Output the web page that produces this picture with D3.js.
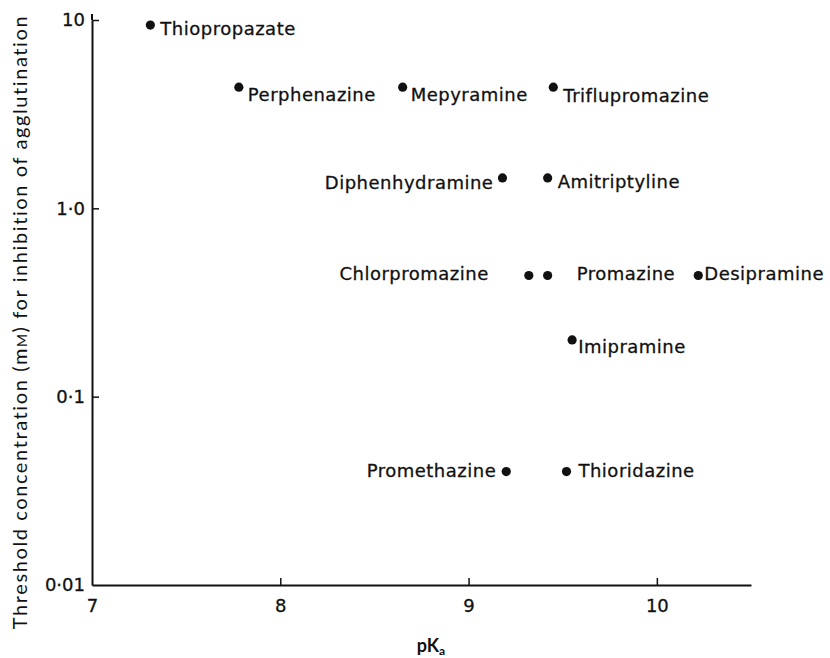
<!DOCTYPE html>
<html>
<head>
<meta charset="utf-8">
<script src="https://cdn.jsdelivr.net/npm/d3@7"></script>
<style>
  html, body { margin: 0; padding: 0; background: #fff; }
  svg { display: block; }
  .lbl { font-family: "DejaVu Sans", sans-serif; font-size: 18px; letter-spacing: 0.5px; fill: #111; stroke: #111; stroke-width: 0.3px; }
  .tick text { font-family: "DejaVu Sans", sans-serif; font-size: 18px; fill: #111; stroke: #111; stroke-width: 0.3px; }
  .title { font-family: Lato, "Open Sans", sans-serif; fill: #111; }
</style>
</head>
<body>
<svg id="chart" width="830" height="658"></svg>
<script>
// Drug names, pKa values and threshold concentrations (mM)
const drugs = ["Thiopropazate", "Perphenazine", "Mepyramine", "Triflupromazine",
               "Diphenhydramine", "Amitriptyline", "Chlorpromazine", "Promazine",
               "Desipramine", "Imipramine", "Promethazine", "Thioridazine"];
const pKa = [7.31, 7.78, 8.65, 9.45, 9.18, 9.42, 9.32, 9.42, 10.22, 9.55, 9.20, 9.52];
const threshold = [9.4, 4.4, 4.4, 4.4, 1.45, 1.45, 0.44, 0.44, 0.44, 0.2, 0.04, 0.04];

const xTicks = [7, 8, 9, 10];
const yTicks = [10, 1, 0.1, 0.01];
const yTickLabels = ["10", "1\u00B70", "0\u00B71", "0\u00B701"];

// Where each name sits relative to its dot: [dx, dy, anchor]
const labelPlacement = {
  "Thiopropazate":   [10, 10, "start"],
  "Perphenazine":    [9, 14, "start"],
  "Mepyramine":      [8, 14, "start"],
  "Triflupromazine": [10, 15, "start"],
  "Diphenhydramine": [-9, 11, "end"],
  "Amitriptyline":   [10, 10, "start"],
  "Chlorpromazine":  [-40, 5, "end"],
  "Promazine":       [29, 5, "start"],
  "Desipramine":     [6, 5, "start"],
  "Imipramine":      [6, 13, "start"],
  "Promethazine":    [-10, 5, "end"],
  "Thioridazine":    [12, 5, "start"]
};

const svg = d3.select("#chart");

const x = d3.scaleLinear().domain([7, 10.5]).range([92, 751]);
const y = d3.scaleLog().domain([0.01, 10]).range([585, 20]);

// x axis with inward ticks
const xAxis = d3.axisBottom(x)
  .tickValues(xTicks)
  .tickFormat(d3.format("d"))
  .tickSizeInner(-7)
  .tickSizeOuter(0)
  .tickPadding(14);

svg.append("g")
  .attr("transform", `translate(0,${y.range()[0]})`)
  .call(xAxis)
  .call(g => g.select(".domain").attr("stroke", "#111").attr("stroke-width", 2))
  .call(g => g.selectAll(".tick line").attr("stroke", "#111").attr("stroke-width", 1.5))
  .call(g => g.selectAll(".tick").filter(d => d === 7).select("line").remove());

// y axis (log) with inward ticks
const yAxis = d3.axisLeft(y)
  .tickValues(yTicks)
  .tickFormat((d, i) => yTickLabels[i])
  .tickSizeInner(-7)
  .tickSizeOuter(0)
  .tickPadding(7);

svg.append("g")
  .attr("transform", `translate(${x.range()[0]},0)`)
  .call(yAxis)
  .call(g => g.select(".domain").attr("stroke", "#111").attr("stroke-width", 2))
  .call(g => g.selectAll(".tick line").attr("stroke", "#111").attr("stroke-width", 1.5))
  .call(g => g.selectAll(".tick").filter(d => d === 0.01).select("line").remove());

// extend the vertical axis a touch above the top tick
svg.append("line")
  .attr("x1", x.range()[0]).attr("x2", x.range()[0])
  .attr("y1", y(10) - 6).attr("y2", y(10))
  .attr("stroke", "#111").attr("stroke-width", 2);

const pts = drugs.map((name, i) => ({ name, pKa: pKa[i], t: threshold[i] }));

svg.append("g").selectAll("circle")
  .data(pts)
  .join("circle")
  .attr("cx", d => x(d.pKa))
  .attr("cy", d => y(d.t))
  .attr("r", 4.6)
  .attr("fill", "#111");

svg.append("g").selectAll("text")
  .data(pts)
  .join("text")
  .attr("class", "lbl")
  .attr("x", d => x(d.pKa) + labelPlacement[d.name][0])
  .attr("y", d => y(d.t) + labelPlacement[d.name][1])
  .attr("text-anchor", d => labelPlacement[d.name][2])
  .text(d => d.name);

// axis titles
const xt = svg.append("text")
  .attr("class", "title")
  .attr("x", 431).attr("y", 652)
  .attr("text-anchor", "middle")
  .attr("font-size", 18)
  .attr("font-weight", 700);
xt.append("tspan").text("pK");
xt.append("tspan").attr("font-size", 12).attr("dy", 3).text("a");

const yt = svg.append("text")
  .attr("class", "title")
  .attr("transform", "translate(27,322) rotate(-90)")
  .attr("text-anchor", "middle")
  .attr("font-size", 20)
  .attr("letter-spacing", 1.6);
yt.append("tspan").text("Threshold concentration (m");
yt.append("tspan").attr("font-size", 14).text("M");
yt.append("tspan").text(") for inhibition of agglutination");
</script>
</body>
</html>
